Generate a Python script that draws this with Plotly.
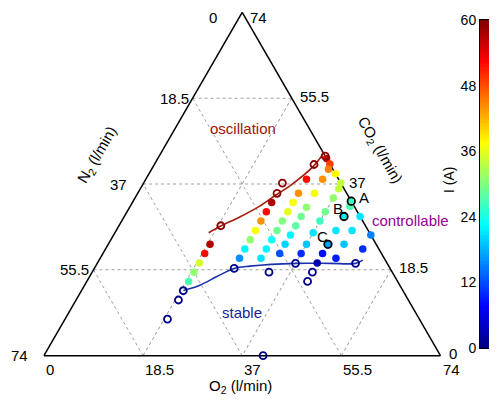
import plotly.graph_objects as go

TOTAL = 74
tick_vals = [0, 18.5, 37, 55.5, 74]
tick_text = ["0", "18.5", "37", "55.5", "74"]

# controllable (filled) points: CO2, O2 (l/min), current I (A)
ctrl_co2 = [16, 18, 20, 22, 24,
            21, 23, 25, 27, 29, 31, 33,
            21, 23, 25, 27, 29, 31, 33, 35, 38,
            22, 24, 26, 28, 30, 32, 35, 38,
            22, 24, 26.5, 29, 31, 34, 36,
            20, 22, 27, 32.2,
            21, 24, 27, 30,
            23, 26,
            42.5, 41.3, 40.2, 39.2, 37.2]
ctrl_o2 = [19, 19, 19, 19, 19,
           26, 26, 26, 26, 26, 26, 26,
           30, 30, 30, 30, 30, 30, 30, 30, 30,
           33, 33, 33, 33, 33, 33, 33, 33,
           37, 37, 37, 37, 37, 37, 37,
           41, 41, 41, 41,
           44, 44, 44, 44,
           48, 48,
           31.5, 32.7, 33.0, 34.8, 36.8]
ctrl_i = [27, 31, 35, 52, 57,
          16, 22, 31, 37, 44, 52, 57,
          21, 22, 23, 29, 30, 36, 37, 44, 52,
          12, 20, 22, 28, 29, 31, 37, 44,
          10, 19, 21, 26, 29, 31, 34,
          3, 8, 21, 27,
          9, 19, 21, 21,
          10, 15,
          56, 49, 45, 38, 34]

# highlighted operating points
abc_names = ["A", "B", "C"]
abc_co2 = [33.3, 30, 24]
abc_o2 = [40.7, 41, 41]
abc_i = [26, 22, 17]

# oscillating (open dark-red) and stable (open dark-blue) points
osc_co2 = [28, 35, 37.2, 41.2, 43.7, 43.0]
osc_o2 = [19, 26, 25.9, 29.8, 30.3, 31.0]
stab_co2 = [7.9, 12, 14, 18.8, 18, 19.9, 16, 18, 19.9, 0]
stab_o2 = [19.1, 19.1, 19, 26.1, 33, 37, 41.2, 41.1, 48.2, 40.9]

# boundary curves
osc_line_co2 = [26.5, 28, 29.9, 32.3, 34.8, 36.6, 40.9, 43.7, 44.4]
osc_line_o2 = [17.5, 19.1, 21.6, 24.2, 26.1, 27.6, 29.9, 30.2, 29.6]
stab_line_co2 = [14.05, 15.2, 17.0, 18.8, 19.3, 19.9, 19.9, 19.9, 20.6]
stab_line_o2 = [19.0, 21.5, 23.7, 26.1, 28.8, 37.1, 43.4, 48.2, 49.2]

I_MIN, I_MAX = 0, 60
cbar_ticks = [0, 12, 24, 36, 48, 60]
cbar_levels = [i * 0.25 for i in range(241)]

jet = [[0.0, "rgb(0,0,128)"], [0.125, "rgb(0,0,255)"], [0.375, "rgb(0,255,255)"],
       [0.625, "rgb(255,255,0)"], [0.875, "rgb(255,0,0)"], [1.0, "rgb(128,0,0)"]]

def n2(co2, o2):
    return [TOTAL - c - o for c, o in zip(co2, o2)]

# page coordinates (the page body has an 8 px margin)
OFF = 8
FW, FH = 489, 393
def px(x):
    return (x - OFF) / FW
def py(y):
    return 1 - (y - OFF) / FH

# triangle corners on the page
TX, TY = 242.2, 12.3
LX, RX, BY = 43.7, 440.7, 355.7
SIDE = RX - LX
HGT = BY - TY

FONT = "Liberation Sans, Arial, Helvetica, sans-serif"
fig = go.Figure()

fig.add_trace(go.Scatterternary(a=osc_line_co2, b=n2(osc_line_co2, osc_line_o2), c=osc_line_o2,
                                mode="lines", line=dict(color="rgb(165,30,15)", width=1.6, shape="spline"),
                                hoverinfo="skip", showlegend=False, cliponaxis=False))
fig.add_trace(go.Scatterternary(a=stab_line_co2, b=n2(stab_line_co2, stab_line_o2), c=stab_line_o2,
                                mode="lines", line=dict(color="rgb(25,50,170)", width=1.6, shape="spline"),
                                hoverinfo="skip", showlegend=False, cliponaxis=False))

fig.add_trace(go.Scatterternary(a=ctrl_co2, b=n2(ctrl_co2, ctrl_o2), c=ctrl_o2, mode="markers",
                                marker=dict(size=7.5, color=ctrl_i, colorscale=jet, cmin=I_MIN, cmax=I_MAX,
                                            line=dict(width=0), showscale=False),
                                showlegend=False, cliponaxis=False))
fig.add_trace(go.Scatterternary(a=osc_co2, b=n2(osc_co2, osc_o2), c=osc_o2, mode="markers",
                                marker=dict(size=7, symbol="circle-open", color="rgb(140,0,0)",
                                            line=dict(width=1.8)),
                                showlegend=False, cliponaxis=False))
fig.add_trace(go.Scatterternary(a=stab_co2, b=n2(stab_co2, stab_o2), c=stab_o2, mode="markers",
                                marker=dict(size=7, symbol="circle-open", color="rgb(0,0,140)",
                                            line=dict(width=1.8)),
                                showlegend=False, cliponaxis=False))
fig.add_trace(go.Scatterternary(a=abc_co2, b=n2(abc_co2, abc_o2), c=abc_o2, mode="markers",
                                marker=dict(size=7.5, color=abc_i, colorscale=jet, cmin=I_MIN, cmax=I_MAX,
                                            line=dict(width=1.8, color="black"), showscale=False),
                                showlegend=False, cliponaxis=False))

# colour scale bar drawn as a heatmap on its own cartesian axes
fig.add_trace(go.Heatmap(z=[[v] for v in cbar_levels], y=cbar_levels, x=[0], colorscale=jet,
                         zmin=I_MIN, zmax=I_MAX, showscale=False, hoverinfo="skip",
                         xaxis="x", yaxis="y"))

axis_common = dict(tickmode="array", tickvals=tick_vals, showticklabels=False, ticks="",
                   showgrid=True, gridcolor="rgb(160,160,160)", griddash="dot", gridwidth=1,
                   linecolor="black", linewidth=1.5, title=dict(text=""),
                   layer="below traces", min=0)

fig.update_layout(
    width=FW, height=FH, margin=dict(l=0, r=0, t=0, b=0, autoexpand=False),
    paper_bgcolor="white", plot_bgcolor="white",
    font=dict(family=FONT, size=15, color="black"),
    ternary=dict(sum=TOTAL, bgcolor="white",
                 domain=dict(x=[px(LX), px(RX)], y=[py(BY), py(TY)]),
                 aaxis=axis_common, baxis=axis_common, caxis=axis_common),
    xaxis=dict(domain=[px(480), px(495)], range=[-0.5, 0.5], showticklabels=False, ticks="",
               showgrid=False, zeroline=False, showline=True, mirror=True, linecolor="black",
               linewidth=1, anchor="y", fixedrange=True),
    yaxis=dict(domain=[py(348), py(20)], range=[I_MIN, I_MAX], tickvals=cbar_ticks, side="left",
               ticks="", showgrid=False, zeroline=False, showline=True, mirror=True,
               linecolor="black", linewidth=1, anchor="x", tickfont=dict(size=14), fixedrange=True),
)

ann = [
    dict(text="oscillation", x=px(242.5), y=py(128), font=dict(color="rgb(160,20,10)")),
    dict(text="stable", x=px(241.7), y=py(312.5), font=dict(color="rgb(25,30,150)")),
    dict(text="controllable", x=px(410.5), y=py(220.7), font=dict(color="rgb(150,0,150)")),
    dict(text="A", x=px(364), y=py(197)),
    dict(text="B", x=px(338), y=py(208.5)),
    dict(text="C", x=px(322), y=py(236.5)),
    dict(text="CO<sub>2</sub> (l/min)", x=px(380), y=py(150), textangle=60),
    dict(text="N<sub>2</sub> (l/min)", x=px(97), y=py(155), textangle=-60),
    dict(text="O<sub>2</sub> (l/min)", x=px(240), y=py(386)),
    dict(text="I (A)", x=px(449), y=py(180), textangle=-90, font=dict(size=14)),
]
for a in ann:
    a.update(xanchor="center")

# ternary tick labels, placed MATLAB-style next to each side
for v, t in zip(tick_vals, tick_text):
    f = v / TOTAL
    # N2 labels on the left side (0 at top, 74 at bottom-left)
    ann.append(dict(text=t, x=px(TX - f * (TX - LX) - 35), y=py(max(TY + f * HGT, 17.5)),
                    xanchor="left"))
    # O2 labels below the base (0 at left, 74 at right)
    ann.append(dict(text=t, x=px(LX + f * SIDE), y=py(369), xanchor="left"))
    # CO2 labels on the right side (0 at bottom-right, 74 at top)
    ann.append(dict(text=t, x=px(RX - f * (RX - TX) + 6), y=py(max(BY - f * HGT - 2, 17.5)),
                    xanchor="left"))

for a in ann:
    a.update(xref="paper", yref="paper", showarrow=False, yanchor="middle")
fig.update_layout(annotations=ann)

fig.write_html("out.html")
